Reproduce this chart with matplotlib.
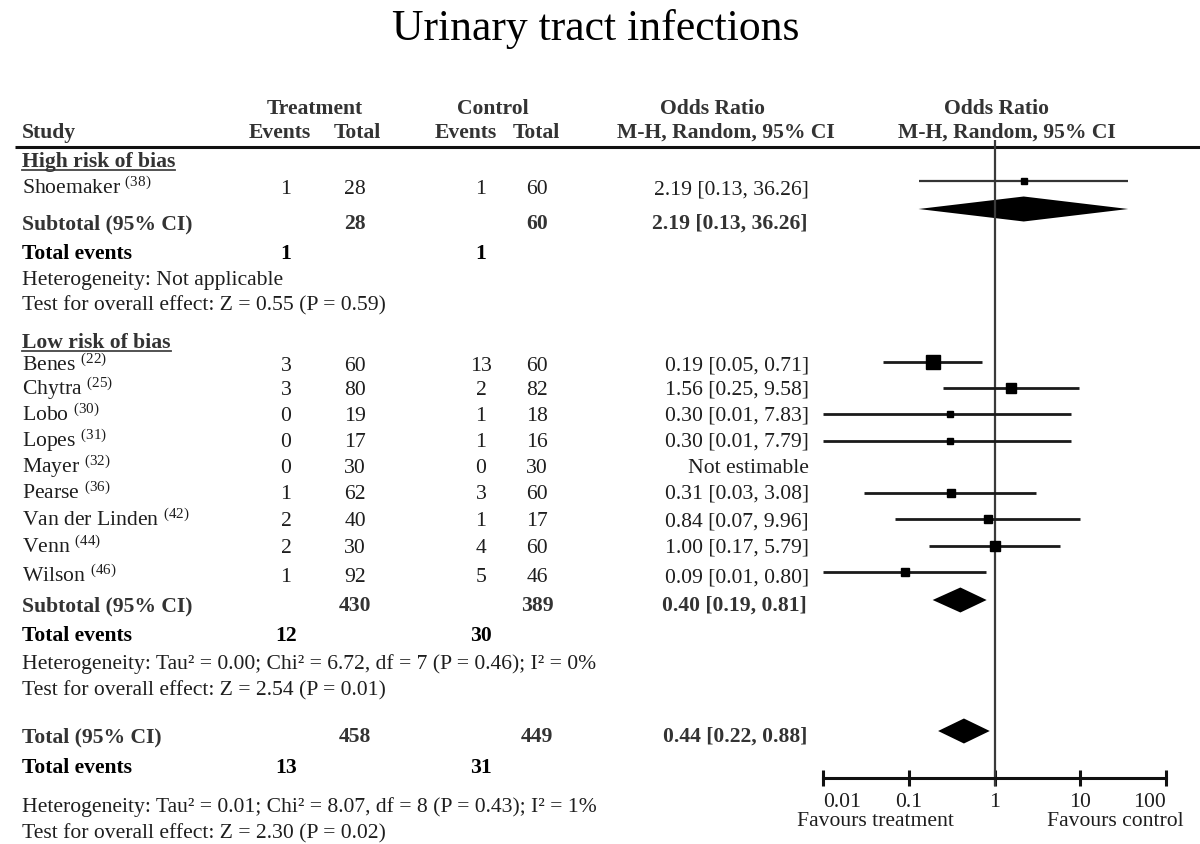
import numpy as np
import matplotlib
matplotlib.use("Agg")
import matplotlib.pyplot as plt

plt.rcParams['font.family'] = ['Liberation Serif', 'DejaVu Serif']
plt.rcParams['mathtext.fontset'] = 'custom'
plt.rcParams['mathtext.rm'] = 'Liberation Serif'
plt.rcParams['mathtext.it'] = 'Liberation Serif:italic'

# --------- data ---------
high_studies = ["Shoemaker"]
high_refs = ["38"]
high_t_events = [1]
high_t_total = [28]
high_c_events = [1]
high_c_total = [60]
high_or = [2.19]
high_lo = [0.13]
high_hi = [36.26]

low_studies = ["Benes", "Chytra", "Lobo", "Lopes", "Mayer", "Pearse",
               "Van der Linden", "Venn", "Wilson"]
low_refs = ["22", "25", "30", "31", "32", "36", "42", "44", "46"]
low_t_events = [3, 3, 0, 0, 0, 1, 2, 2, 1]
low_t_total = [60, 80, 19, 17, 30, 62, 40, 30, 92]
low_c_events = [13, 2, 1, 1, 0, 3, 1, 4, 5]
low_c_total = [60, 82, 18, 16, 30, 60, 17, 60, 46]
low_or = [0.19, 1.56, 0.30, 0.30, np.nan, 0.31, 0.84, 1.00, 0.09]
low_lo = [0.05, 0.25, 0.01, 0.01, np.nan, 0.03, 0.07, 0.17, 0.01]
low_hi = [0.71, 9.58, 7.83, 7.79, np.nan, 3.08, 9.96, 5.79, 0.80]

# pooled estimates: [OR, lower, upper]
high_sub = [2.19, 0.13, 36.26]
low_sub = [0.40, 0.19, 0.81]
overall = [0.44, 0.22, 0.88]

high_sub_totals = [28, 60]
low_sub_totals = [430, 389]
overall_totals = [458, 449]
high_events = [1, 1]
low_events = [12, 30]
overall_events = [13, 31]

high_het = "Heterogeneity: Not applicable"
high_test = "Test for overall effect: Z = 0.55 (P = 0.59)"
low_het = "Heterogeneity: Tau² = 0.00; Chi² = 6.72, df = 7 (P = 0.46); I² = 0%"
low_test = "Test for overall effect: Z = 2.54 (P = 0.01)"
all_het = "Heterogeneity: Tau² = 0.01; Chi² = 8.07, df = 8 (P = 0.43); I² = 1%"
all_test = "Test for overall effect: Z = 2.30 (P = 0.02)"

ticks = [0.01, 0.1, 1, 10, 100]
tick_labels = ["0.01", "0.1", "1", "10", "100"]

# --------- layout (pixel rows) ---------
W, H = 1200, 844
FS = 15.6
BASE = 7.0          # baseline offset below row centre
DARK = "#1e1e1e"
BOLDC = "#333333"
X_NAME, X_TE, X_TT, X_CE, X_CT, X_OR = 22, 286, 355, 481, 537, 809

y_high_head = 160
y_high_rows = [187]
y_high_sub, y_high_ev, y_high_het, y_high_test = 222, 252, 278, 303
y_low_head = 341
y_low_rows = [364, 388, 414, 440, 466, 492, 519, 546, 575]
y_low_sub, y_low_ev, y_low_het, y_low_test = 604, 634, 662, 688
y_tot, y_tot_ev, y_tot_het, y_tot_test = 735, 766, 805, 831

fy_high_rows = [181]
fy_low_rows = [362, 388, 414, 441, 466, 493, 519, 546, 572]
fy_high_sub, fy_low_sub, fy_tot = 209, 600, 731
high_msize = [5.0]
low_msize = [9.4, 7.0, 5.0, 5.0, 0, 6.2, 5.6, 7.0, 6.4]

fig = plt.figure(figsize=(W / 100, H / 100), dpi=100)
ax = fig.add_axes([0, 0, 1, 1])
ax.set_xlim(0, W)
ax.set_ylim(H, 0)
ax.axis("off")


def txt(x, y, s, ha="left", bold=False, size=FS, color=None):
    return ax.text(x, y + BASE, s, ha=ha, va="baseline", fontsize=size,
                   fontweight="bold" if bold else "normal",
                   color=color or (BOLDC if bold else DARK))


def or_str(e, lo, hi):
    if np.isnan(e):
        return "Not estimable"
    return f"{e:.2f} [{lo:.2f}, {hi:.2f}]"


# title
ax.text(596, 29, "Urinary tract infections", ha="center", va="center",
        fontsize=31.5, color="black")

# column headers
txt(315, 107, "Treatment", "center", True)
txt(493, 107, "Control", "center", True)
txt(713, 107, "Odds Ratio", "center", True)
txt(996, 107, "Odds Ratio", "center", True)
txt(X_NAME, 131, "Study", bold=True)
txt(280, 131, "Events", "center", True)
txt(357, 131, "Total", "center", True)
txt(466, 131, "Events", "center", True)
txt(536, 131, "Total", "center", True)
txt(726, 131, "M-H, Random, 95% CI", "center", True)
txt(1007, 131, "M-H, Random, 95% CI", "center", True)
ax.plot([15, W], [147, 147], color="#111111", lw=2.2, solid_capstyle="butt")

heads = [txt(X_NAME, y_high_head, "High risk of bias", bold=True),
         txt(X_NAME, y_low_head, "Low risk of bias", bold=True)]


def study_rows(ys, names, refs, te, tt, ce, ct, est, lo, hi):
    for i, y in enumerate(ys):
        txt(X_NAME, y, names[i] + " $^{(" + refs[i] + ")}$")
        txt(X_TE, y, str(te[i]), "center")
        txt(X_TT, y, str(tt[i]), "center")
        txt(X_CE, y, str(ce[i]), "center")
        txt(X_CT, y, str(ct[i]), "center")
        txt(X_OR, y, or_str(est[i], lo[i], hi[i]), "right")


def summary_block(y_sub, label, totals, pooled, y_ev, events, het=None, test=None, y_het=None, y_test=None):
    txt(X_NAME, y_sub, label, bold=True)
    txt(X_TT, y_sub, str(totals[0]), "center", True)
    txt(X_CT, y_sub, str(totals[1]), "center", True)
    txt(X_OR - 2, y_sub, or_str(*pooled), "right", True)
    txt(X_NAME, y_ev, "Total events", bold=True, color="black")
    txt(X_TE, y_ev, str(events[0]), "center", True, color="black")
    txt(X_CE, y_ev, str(events[1]), "center", True, color="black")
    if het:
        txt(X_NAME, y_het, het)
        txt(X_NAME, y_test, test)


study_rows(y_high_rows, high_studies, high_refs, high_t_events, high_t_total,
           high_c_events, high_c_total, high_or, high_lo, high_hi)
summary_block(y_high_sub, "Subtotal (95% CI)", high_sub_totals, high_sub,
              y_high_ev, high_events, high_het, high_test, y_high_het, y_high_test)
study_rows(y_low_rows, low_studies, low_refs, low_t_events, low_t_total,
           low_c_events, low_c_total, low_or, low_lo, low_hi)
summary_block(y_low_sub, "Subtotal (95% CI)", low_sub_totals, low_sub,
              y_low_ev, low_events, low_het, low_test, y_low_het, y_low_test)
summary_block(y_tot, "Total (95% CI)", overall_totals, overall,
              y_tot_ev, overall_events, all_het, all_test, y_tot_het, y_tot_test)

# underline the subgroup headings
fig.canvas.draw()
inv = ax.transData.inverted()
for t in heads:
    bb = t.get_window_extent()
    (x0, _), (x1, _) = inv.transform([[bb.x0, bb.y0], [bb.x1, bb.y0]])
    yb = t.get_position()[1] + 3
    ax.plot([x0, x1], [yb, yb], color="#444444", lw=1.3)

# --------- forest panel ---------
fx0, fx1 = 823, 1166
fa = fig.add_axes([fx0 / W, 0, (fx1 - fx0) / W, 1])
fa.set_xscale("log")
fa.set_xlim(0.01, 100)
fa.set_ylim(H, 0)
fa.patch.set_alpha(0)
for s in ["top", "left", "right"]:
    fa.spines[s].set_visible(False)
fa.spines["bottom"].set_position(("data", 778))
fa.spines["bottom"].set_linewidth(2.2)
fa.spines["bottom"].set_color("#111111")
fa.set_yticks([])
fa.set_xticks(ticks)
fa.set_xticklabels(tick_labels)
fa.minorticks_off()
fa.tick_params(axis="x", direction="inout", length=12, width=2.2, pad=5,
               labelsize=FS, colors="#111111", labelcolor=DARK)
lbls = fa.get_xticklabels()
lbls[0].set_horizontalalignment("left")
lbls[-1].set_horizontalalignment("right")

fa.vlines(1, 140, 786, color="#3a3a3a", lw=1.6, clip_on=False)


def forest_rows(ys, est, lo, hi, ms, lw, col):
    for i, y in enumerate(ys):
        if np.isnan(est[i]):
            continue
        fa.plot([lo[i], hi[i]], [y, y], color=col, lw=lw, clip_on=False,
                solid_capstyle="butt")
        fa.plot(est[i], y, marker="s", ms=ms[i], color="black", mec="black",
                clip_on=False)


def diamond(y, pooled, half):
    e, lo, hi = pooled
    fa.fill([lo, e, hi, e], [y, y - half, y, y + half], color="black",
            lw=0, clip_on=False)


forest_rows(fy_high_rows, high_or, high_lo, high_hi, high_msize, 1.6, "#333333")
forest_rows(fy_low_rows, low_or, low_lo, low_hi, low_msize, 2.0, "#1a1a1a")
diamond(fy_high_sub, high_sub, 12.5)
diamond(fy_low_sub, low_sub, 12.5)
diamond(fy_tot, overall, 12.5)

ax.text(875, 822, "Favours treatment", ha="center", va="center", fontsize=FS, color=DARK)
ax.text(1115, 822, "Favours control", ha="center", va="center", fontsize=FS, color=DARK)

fig.savefig("out.png", dpi=100)
